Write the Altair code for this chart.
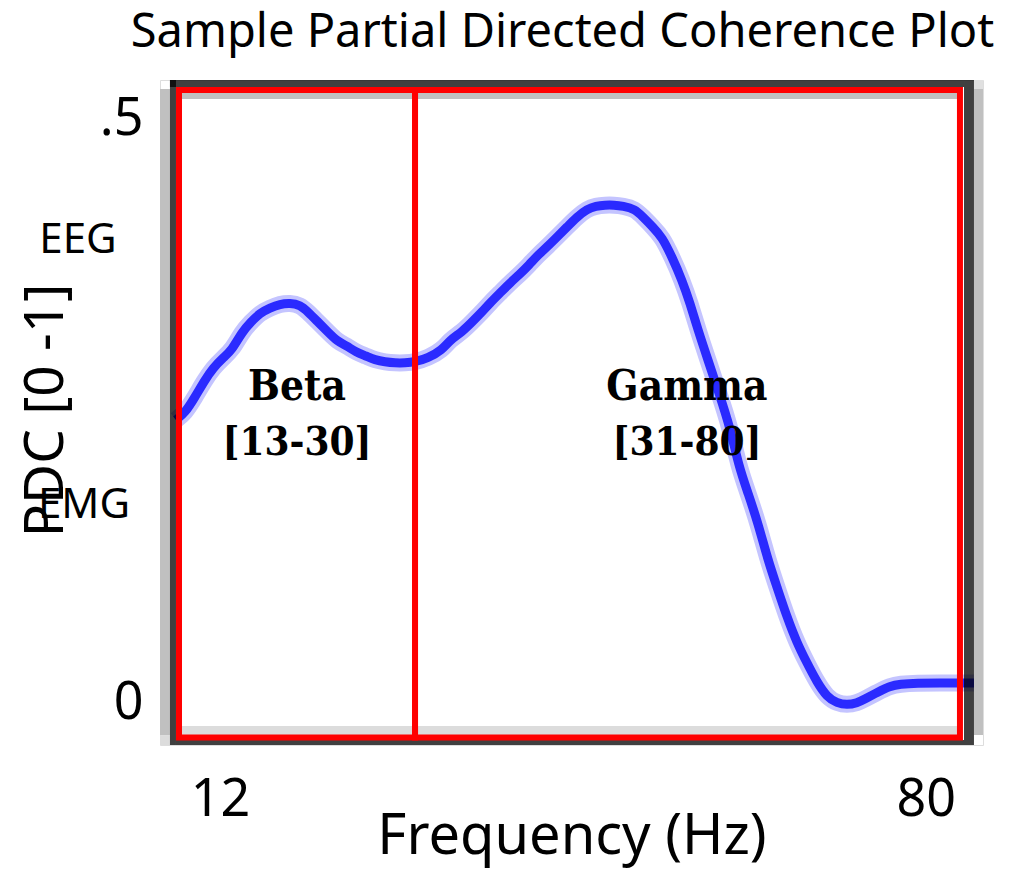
import altair as alt
import pandas as pd

# ---- curve (frequency in Hz, PDC value) ----
freq = [7.76, 8.63, 9.59, 10.55, 11.33, 12.29, 13.16, 14.12, 14.99, 15.85, 16.82, 17.78,
        18.74, 19.71, 20.48, 21.44, 22.40, 23.27, 24.23, 25.10, 26.07, 26.93, 27.90, 28.86,
        29.82, 30.79, 32.04, 33.39, 34.16, 35.31, 36.28, 37.24, 38.01, 38.97, 39.94, 40.90,
        41.77, 42.64, 43.60, 44.47, 45.43, 46.39, 47.36, 48.22, 49.09, 49.96, 50.82, 51.98,
        52.75, 53.71, 54.58, 55.55, 56.51, 57.28, 58.05, 59.01, 60.07, 61.13, 62.00, 62.87,
        63.83, 64.79, 65.66, 66.62, 67.59, 68.55, 69.51, 70.48, 71.44, 72.40, 73.37, 74.14,
        75.39, 76.55, 77.51, 79.15, 81.36, 83.58, 84.64]
pdc = [0.2419, 0.2479, 0.2615, 0.2761, 0.2863, 0.2949, 0.3017, 0.3171, 0.3256, 0.3333,
       0.3376, 0.3410, 0.3419, 0.3402, 0.3342, 0.3256, 0.3171, 0.3094, 0.3051, 0.3000,
       0.2966, 0.2932, 0.2915, 0.2906, 0.2906, 0.2915, 0.2949, 0.3017, 0.3103, 0.3171,
       0.3256, 0.3342, 0.3419, 0.3504, 0.3590, 0.3667, 0.3744, 0.3829, 0.3906, 0.3983,
       0.4068, 0.4154, 0.4222, 0.4248, 0.4256, 0.4256, 0.4248, 0.4222, 0.4154, 0.4068,
       0.3983, 0.3812, 0.3615, 0.3419, 0.3188, 0.2932, 0.2650, 0.2359, 0.2017, 0.1795,
       0.1538, 0.1222, 0.0991, 0.0735, 0.0513, 0.0342, 0.0179, 0.0051, 0.0, -0.0017,
       0.0, 0.0034, 0.0094, 0.0145, 0.0162, 0.0171, 0.0171, 0.0171, 0.0171]

# ---- frequency bands (schematic boxes) ----
band_names = ["Beta", "Gamma"]
band_ranges = ["[13-30]", "[31-80]"]
band_lo = [8.05, 30.79]
band_hi = [30.79, 83.29]
band_label_x = [19.42, 56.99]

# ---- axis ticks ----
x_ticks = [12, 80]
y_ticks = [0, 0.5]

# ---- side annotations ----
side_text = ["EEG", "EMG"]
side_x = [-1.68, -1.10]
side_y = [0.3957, 0.1692]

X_DOM = [6.22, 85.51]
Y_DOM = [-0.0359, 0.5325]
BOX_TOP, BOX_BOTTOM = 0.5239, -0.0295

xs = alt.Scale(domain=X_DOM, nice=False, zero=False)
ys = alt.Scale(domain=Y_DOM, nice=False, zero=False)

curve_df = pd.DataFrame({"f": freq, "v": pdc})
band_df = pd.DataFrame({"name": band_names, "rng": band_ranges, "lo": band_lo,
                        "hi": band_hi, "lx": band_label_x,
                        "top": [BOX_TOP] * 2, "bot": [BOX_BOTTOM] * 2,
                        "y1": [0.2701] * 2, "y2": [0.2222] * 2})
side_df = pd.DataFrame({"t": side_text, "x": side_x, "y": side_y})

# frame pieces (plot-frame decoration in data units)
shadow_df = pd.DataFrame({
    "x": [6.22, 6.22, 84.64, 84.64, 8.34, 7.76],
    "x2": [7.18, 7.18, 85.51, 85.51, 83.00, 83.00],
    "y": [0.5248, -0.0274, 0.5248, 0.5325, 0.5214, -0.0197],
    "y2": [-0.0274, -0.0359, -0.0274, 0.5248, 0.5162, -0.0274],
    "c": ["#c0c0c0", "#dcdcdc", "#c0c0c0", "#e0e0e0", "#c0c0c0", "#dcdcdc"],
})
dark_df = pd.DataFrame({
    "x": [7.18, 83.68, 7.18, 7.76],
    "x2": [83.68, 84.64, 7.76, 83.68],
    "y": [0.5325, 0.5325, 0.5325, -0.0316],
    "y2": [0.5265, -0.0359, -0.0359, -0.0359],
})

SLAB = "'DejaVu Serif Condensed', 'DejaVu Serif', serif"

X_AX = alt.Axis(values=x_ticks, title="Frequency (Hz)", grid=False, domain=False,
                ticks=False, labelFontSize=52, labelFont="Noto Sans", labelColor="black",
                labelBaseline="alphabetic", labelPadding=70, labelFlush=False,
                titleFont="Noto Sans", titleFontSize=56, titleFontWeight="normal",
                titleColor="black", titleBaseline="alphabetic", titleY=108)
Y_AX = alt.Axis(values=y_ticks, title="PDC [0 -1]", grid=False, domain=False, ticks=False,
                labelExpr="datum.value == 0.5 ? '.5' : '0'", labelFontSize=52,
                labelFont="Noto Sans", labelColor="black", labelPadding=17,
                labelBaseline="middle", labelFlush=False,
                titleFont="Noto Sans", titleFontSize=55, titleFontWeight="normal",
                titleColor="black", titleX=-115, titleY=330, titleBaseline="middle",
                titleAlign="center", titleAngle=270)

shadow = alt.Chart(shadow_df).mark_rect().encode(
    x=alt.X("x:Q", scale=xs, axis=X_AX), x2="x2",
    y=alt.Y("y:Q", scale=ys, axis=Y_AX), y2="y2",
    color=alt.Color("c:N", scale=None))

halo = alt.Chart(curve_df).mark_line(color="#c4c4ff", strokeWidth=17, interpolate="basis").encode(
    x=alt.X("f:Q", scale=xs), y=alt.Y("v:Q", scale=ys))
core = alt.Chart(curve_df).mark_line(color="#2a2aff", strokeWidth=9, interpolate="basis").encode(
    x=alt.X("f:Q", scale=xs), y=alt.Y("v:Q", scale=ys))

dark = alt.Chart(dark_df).mark_rect(color="black", opacity=0.75).encode(
    x=alt.X("x:Q", scale=xs), x2="x2", y=alt.Y("y:Q", scale=ys), y2="y2")

boxes = alt.Chart(band_df).mark_rect(fill=None, filled=False, stroke="#ff0000", strokeWidth=6).encode(
    x=alt.X("lo:Q", scale=xs), x2="hi", y=alt.Y("top:Q", scale=ys), y2="bot")

lab1 = alt.Chart(band_df).mark_text(font=SLAB, fontWeight="bold", fontSize=42,
                                    color="black", baseline="middle").encode(
    x=alt.X("lx:Q", scale=xs), y=alt.Y("y1:Q", scale=ys), text="name:N")
lab2 = alt.Chart(band_df).mark_text(font=SLAB, fontWeight="bold", fontSize=40,
                                    color="black", baseline="middle").encode(
    x=alt.X("lx:Q", scale=xs), y=alt.Y("y2:Q", scale=ys), text="rng:N")

side = alt.Chart(side_df).mark_text(font="Noto Sans", fontSize=42, color="black",
                                    baseline="middle", clip=False).encode(
    x=alt.X("x:Q", scale=xs), y=alt.Y("y:Q", scale=ys), text="t:N")

chart = alt.layer(shadow, halo, core, dark, boxes, lab1, lab2, side).properties(
    width=823, height=665,
    title=alt.TitleParams("Sample Partial Directed Coherence Plot", font="Noto Sans",
                          fontSize=47, fontWeight="normal", color="black",
                          anchor="middle", baseline="alphabetic", offset=33, dx=-9, dy=47),
    autosize=alt.AutoSizeParams(type="none"),
    padding={"left": 160, "top": 80, "right": 27, "bottom": 128},
).configure_view(stroke=None).configure(background="white")

chart.save("out.html", embed_options={"renderer": "svg", "actions": False})
